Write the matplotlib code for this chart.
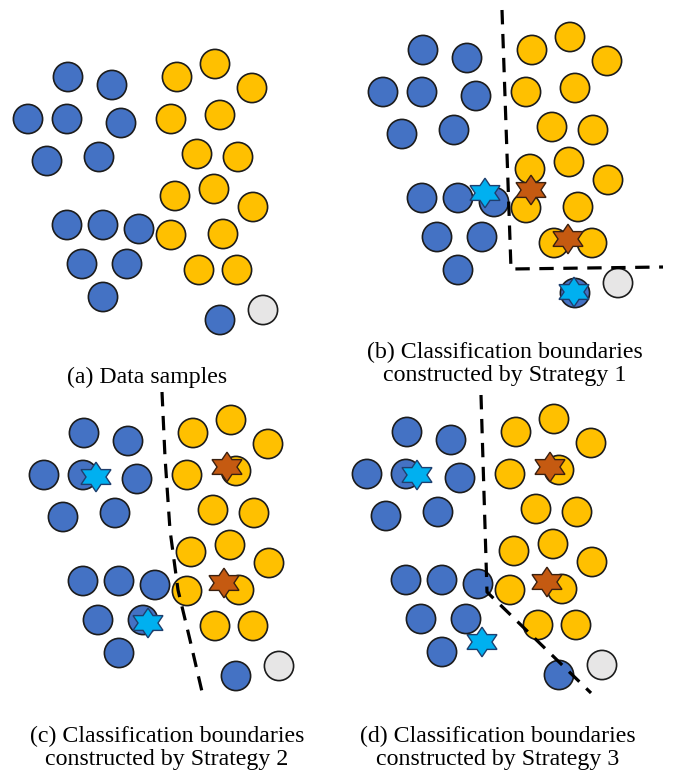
import matplotlib.pyplot as plt
import numpy as np
from matplotlib.patches import Circle, Polygon

# base layout (pixel units of panel a)
blue_x = [68, 112, 28, 67, 121, 47, 99, 67, 103, 139, 82, 127, 103, 220]
blue_y = [77, 85, 119, 119, 123, 161, 157, 225, 225, 229, 264, 264, 297, 320]
yellow_x = [177, 215, 252, 171, 220, 197, 238, 175, 214, 253, 171, 223, 199, 237]
yellow_y = [77, 64, 88, 119, 115, 154, 157, 196, 189, 207, 235, 234, 270, 270]
gray_x = [263]
gray_y = [310]

# stars per panel: (x, y, kind)
stars_b = [(130, 220, "c"), (176, 217, "o"), (213, 266, "o"), (219, 319, "c")]
stars_c = [(80, 121, "c"), (132, 267, "c"), (211, 111, "o"), (208, 227, "o")]
stars_d = [(78, 120, "c"), (143, 287, "c"), (211, 112, "o"), (208, 227, "o")]

# decision boundaries
bound_b_x = [147, 156, 308]
bound_b_y = [37, 296, 294]
bound_c_x = [146, 149, 154, 162, 174, 187]
bound_c_y = [36, 101, 174, 234, 284, 340]
bound_d_x = [142, 148, 252]
bound_d_y = [40, 237, 338]

captions = [
    ["(a) Data samples"],
    ["(b) Classification boundaries", "constructed by Strategy 1"],
    ["(c) Classification boundaries", "constructed by Strategy 2"],
    ["(d) Classification boundaries", "constructed by Strategy 3"],
]

BLUE = "#4472C4"
YELLOW = "#FFC000"
GRAY = "#E7E6E6"
CYAN = "#00B0F0"
BROWN = "#C55A11"
EDGE = "#1c1c1c"

W, H = 683, 775
R = 14.6


def hexagram(x, y, rx, ry):
    ang = np.deg2rad(90 + 30 * np.arange(12))
    rr = np.where(np.arange(12) % 2 == 0, 1.0, 1 / np.sqrt(3))
    return np.column_stack([x + rx * rr * np.cos(ang), y + ry * rr * np.sin(ang)])


def panel(fig, ox, oy, stars=None, bx=None, by=None):
    x0, x1, y0, y1 = 0, 320, 25, 345
    ax = fig.add_axes([(ox + x0) / W, 1 - (oy + y1) / H, (x1 - x0) / W, (y1 - y0) / H])
    ax.set_xlim(x0, x1)
    ax.set_ylim(y1, y0)
    ax.axis("off")
    for xs, ys, col in [(blue_x, blue_y, BLUE), (yellow_x, yellow_y, YELLOW), (gray_x, gray_y, GRAY)]:
        for x, y in zip(xs, ys):
            ax.add_patch(Circle((x, y), R, facecolor=col, edgecolor=EDGE, lw=1.2, clip_on=False))
    if stars:
        for x, y, k in stars:
            fc = CYAN if k == "c" else BROWN
            ec = "#1f3f6e" if k == "c" else "#3a2010"
            ax.add_patch(Polygon(hexagram(x, y, 17.3, 14.8), closed=True, facecolor=fc,
                                 edgecolor=ec, lw=1.0, clip_on=False, zorder=3))
    if bx is not None:
        ax.plot(bx, by, color="black", lw=2.3, linestyle=(0, (4.5, 3)), clip_on=False, zorder=4)
    return ax


def main():
    plt.rcParams["font.family"] = ["Liberation Serif", "DejaVu Serif"]
    fig = plt.figure(figsize=(W / 100, H / 100), dpi=100)

    panel(fig, 0, 0)
    panel(fig, 355, -27, stars_b, bound_b_x, bound_b_y)
    panel(fig, 16, 356, stars_c, bound_c_x, bound_c_y)
    panel(fig, 339, 355, stars_d, bound_d_x, bound_d_y)

    # centre x and baseline y of the first line of each caption
    pos = [(147, 383), (505, 358), (167, 742), (498, 742)]
    for (px, py), lines in zip(pos, captions):
        for i, txt in enumerate(lines):
            fig.text(px / W, 1 - (py + 22.5 * i) / H, txt, ha="center", va="baseline",
                     fontsize=17.2)

    fig.savefig("out.png", dpi=100)


if __name__ == "__main__":
    main()
